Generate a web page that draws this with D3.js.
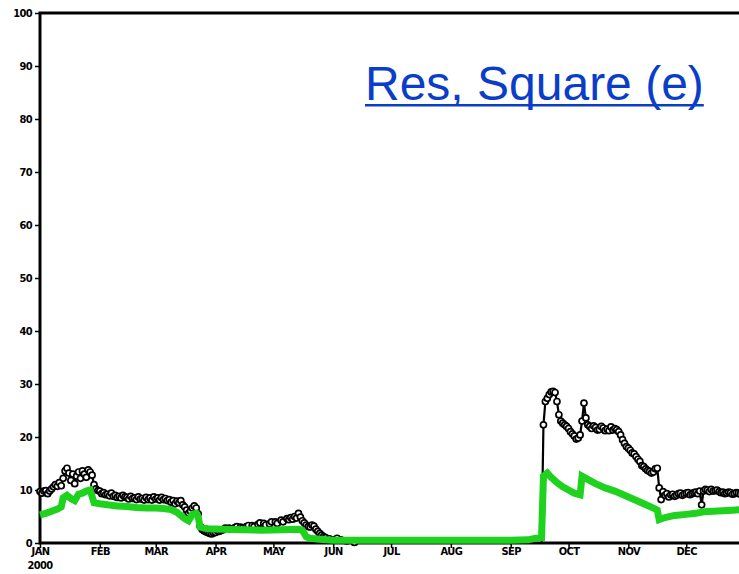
<!DOCTYPE html>
<meta charset="utf-8">
<head>
<style>
body {
  margin: 0;
  background: #fff;
}

.axis text {
  font-family: 'DejaVu Sans Condensed', 'DejaVu Sans', sans-serif;
  font-weight: bold;
  font-size: 11px;
  letter-spacing: -0.6px;
  fill: #000;
}

.axis line {
  stroke: #000;
  stroke-width: 1.5;
}

.axis path {
  display: none;
}

.link {
  font-family: 'Liberation Sans', Arial, sans-serif;
  font-size: 48px;
  fill: #0b3ec8;
}
</style>
</head>

<body>
<div id="chart"></div>

<script src="https://d3js.org/d3.v7.min.js"></script>
<script>

// observed series (black, with markers) - [month-day, percent]
var observed = [
  ["01-01", 9.7], ["01-02", 9.4], ["01-03", 9.8], ["01-04", 9.9], ["01-05", 9.3], ["01-06", 9.8], ["01-07", 10.2],
  ["01-08", 10.6], ["01-09", 11.0], ["01-10", 10.7], ["01-11", 11.4], ["01-12", 10.8],
  ["01-13", 12.2], ["01-14", 13.6], ["01-15", 14.1], ["01-16", 13.2], ["01-17", 11.8],
  ["01-18", 13.0], ["01-19", 11.2], ["01-20", 12.6], ["01-21", 13.4], ["01-22", 12.2],
  ["01-23", 13.6], ["01-24", 13.0], ["01-25", 12.4], ["01-26", 13.8], ["01-27", 13.4],
  ["01-28", 12.8], ["01-29", 11.0], ["01-30", 10.2], ["01-31", 9.9], ["02-01", 9.8], ["02-02", 9.3], ["02-03", 9.5],
  ["02-04", 9.1], ["02-05", 9.2], ["02-06", 8.9], ["02-07", 9.4], ["02-08", 8.8], ["02-09", 9.0], ["02-10", 8.6], ["02-11", 8.8], ["02-12", 8.5], ["02-13", 9.0],
  ["02-14", 8.7], ["02-15", 8.6], ["02-16", 8.3], ["02-17", 8.8], ["02-18", 8.4], ["02-19", 8.5], ["02-20", 8.2], ["02-21", 8.7], ["02-22", 8.3], ["02-23", 8.4],
  ["02-24", 8.1], ["02-25", 8.6], ["02-26", 8.2], ["02-27", 8.5], ["02-28", 8.1], ["02-29", 8.7], ["03-01", 8.3], ["03-02", 8.5], ["03-03", 8.1], ["03-04", 8.6],
  ["03-05", 8.2], ["03-06", 8.4], ["03-07", 8.0], ["03-08", 8.2], ["03-09", 7.7], ["03-10", 8.0], ["03-11", 7.4],
  ["03-12", 7.9], ["03-13", 7.6], ["03-14", 8.0], ["03-15", 7.2], ["03-16", 6.8],
  ["03-17", 6.2], ["03-18", 5.6], ["03-19", 6.0], ["03-20", 6.6], ["03-21", 7.0],
  ["03-22", 6.6], ["03-23", 5.5], ["03-24", 3.2], ["03-25", 2.6], ["03-26", 2.3], ["03-27", 2.1], ["03-28", 2.0],
  ["03-29", 1.8], ["03-30", 1.7], ["03-31", 1.9], ["04-01", 2.0], ["04-02", 2.3], ["04-03", 2.2], ["04-04", 2.4], ["04-05", 2.5], ["04-06", 2.8], ["04-08", 2.8],
  ["04-09", 2.6], ["04-11", 2.9], ["04-12", 3.1], ["04-14", 3.0], ["04-15", 2.8], ["04-17", 3.1], ["04-18", 3.3], ["04-20", 3.3], ["04-21", 3.1], ["04-23", 3.5],
  ["04-24", 3.8], ["04-26", 3.7], ["04-27", 3.4], ["04-29", 3.6], ["04-30", 4.0], ["05-02", 4.0], ["05-03", 3.7], ["05-05", 4.3], ["05-06", 4.0], ["05-08", 4.6],
  ["05-09", 4.4], ["05-10", 4.8], ["05-11", 4.5], ["05-12", 5.0], ["05-13", 4.7], ["05-14", 5.6], ["05-15", 4.9], ["05-16", 4.2],
  ["05-17", 3.8], ["05-18", 3.4], ["05-19", 3.1], ["05-20", 3.0], ["05-21", 3.4], ["05-22", 3.2], ["05-23", 2.6], ["05-24", 2.2], ["05-25", 1.8], ["05-26", 1.5],
  ["05-27", 1.2], ["05-28", 1.0], ["05-30", 0.8], ["06-01", 0.6], ["06-03", 0.9], ["06-05", 0.6],
  ["06-08", 0.4], ["06-12", 0.1], ["06-20", 0], ["09-17", 0],
  ["09-18", 22.3], ["09-19", 26.7], ["09-20", 27.3], ["09-21", 28.0], ["09-22", 28.5],
  ["09-23", 28.6], ["09-24", 28.4], ["09-25", 26.7], ["09-26", 24.2], ["09-27", 23.0],
  ["09-28", 22.6], ["09-29", 22.3], ["09-30", 22.0], ["10-01", 21.6], ["10-02", 21.0], ["10-03", 20.6],
  ["10-04", 20.2], ["10-05", 19.6], ["10-06", 19.8], ["10-07", 20.4], ["10-08", 23.0],
  ["10-09", 26.4], ["10-10", 23.6], ["10-11", 22.3], ["10-12", 22.0], ["10-13", 21.6],
  ["10-14", 22.1], ["10-15", 21.8], ["10-16", 21.3], ["10-17", 21.4], ["10-18", 22.0], ["10-19", 21.7], ["10-20", 21.2], ["10-21", 21.5], ["10-22", 21.2], ["10-23", 21.9],
  ["10-24", 21.3], ["10-25", 21.6], ["10-26", 21.4], ["10-27", 21.0], ["10-28", 20.4], ["10-29", 19.5], ["10-30", 18.8],
  ["10-31", 18.2], ["11-01", 17.9], ["11-02", 17.5], ["11-03", 17.0], ["11-04", 16.8], ["11-05", 16.3], ["11-06", 15.8],
  ["11-07", 15.4], ["11-08", 14.6], ["11-09", 14.4], ["11-10", 14.0], ["11-11", 13.7], ["11-12", 13.5], ["11-13", 13.2], ["11-14", 13.4], ["11-15", 14.0],
  ["11-16", 14.1], ["11-17", 10.4], ["11-18", 8.2], ["11-19", 9.7], ["11-20", 9.0],
  ["11-21", 9.3], ["11-22", 8.7], ["11-23", 9.1], ["11-24", 9.2], ["11-25", 8.8], ["11-26", 9.0], ["11-27", 9.3], ["11-28", 9.4], ["11-29", 9.0], ["11-30", 9.2],
  ["12-01", 9.4], ["12-02", 9.5], ["12-03", 9.1], ["12-04", 9.3], ["12-05", 9.5], ["12-06", 9.6], ["12-07", 9.3], ["12-08", 9.8], ["12-09", 7.2],
  ["12-10", 9.8], ["12-11", 10.1], ["12-12", 10.0], ["12-13", 9.7], ["12-14", 10.1], ["12-15", 9.8], ["12-16", 9.9], ["12-17", 10.0], ["12-18", 9.7],
  ["12-19", 9.5], ["12-20", 9.6], ["12-21", 9.3], ["12-22", 9.4], ["12-23", 9.6], ["12-24", 9.5], ["12-25", 9.2], ["12-26", 9.3], ["12-27", 9.5], ["12-28", 9.4],
  ["12-29", 9.2], ["12-30", 9.3]
];

// simulated series (thick green)
var simulated = [
  ["01-01", 5.3], ["01-04", 5.6], ["01-07", 6.0], ["01-10", 6.4], ["01-12", 6.8],
  ["01-13", 8.5], ["01-15", 9.0], ["01-17", 8.4], ["01-19", 8.0], ["01-21", 9.2],
  ["01-23", 9.4], ["01-25", 9.8], ["01-27", 10.0], ["01-29", 7.6], ["02-01", 7.4],
  ["02-05", 7.2], ["02-10", 7.0], ["02-15", 6.9], ["02-20", 6.7], ["02-25", 6.6],
  ["03-01", 6.6], ["03-05", 6.5], ["03-09", 6.3], ["03-12", 5.8], ["03-14", 5.2],
  ["03-16", 4.6], ["03-18", 4.2], ["03-20", 5.4], ["03-22", 5.6], ["03-23", 5.0],
  ["03-24", 3.0], ["03-28", 2.7], ["04-05", 2.6], ["04-15", 2.5], ["04-25", 2.4],
  ["05-05", 2.5], ["05-14", 2.6], ["05-16", 2.4], ["05-18", 1.2], ["05-20", 0.9],
  ["05-25", 0.7], ["06-01", 0.5], ["07-01", 0.5], ["08-01", 0.5], ["09-01", 0.5],
  ["09-10", 0.6], ["09-14", 0.9], ["09-17", 1.0], ["09-18", 12.6], ["09-20", 13.2],
  ["09-22", 12.4], ["09-25", 11.4], ["09-28", 10.6], ["10-01", 10.0], ["10-04", 9.4],
  ["10-07", 9.1], ["10-08", 12.6], ["10-10", 12.2], ["10-15", 11.2], ["10-20", 10.4],
  ["10-25", 9.8], ["10-30", 9.0], ["11-04", 8.2], ["11-09", 7.4], ["11-14", 6.6],
  ["11-16", 6.2], ["11-17", 4.4], ["11-20", 4.8], ["11-25", 5.2], ["12-01", 5.4],
  ["12-06", 5.6], ["12-10", 5.9], ["12-15", 6.0], ["12-20", 6.1], ["12-25", 6.2],
  ["12-31", 6.3]
];

var monthLabels = ["JAN", "FEB", "MAR", "APR", "MAY", "JUN", "JUL", "AUG", "SEP", "OCT", "NOV", "DEC"];
var yearLabel = "2000";
var yTicks = [0, 10, 20, 30, 40, 50, 60, 70, 80, 90, 100];
var linkLabel = "Res, Square (e)";

var parse = d3.timeParse("%Y-%m-%d");
function toRows(arr) {
  return arr.map(function(d) { return {date: parse("2000-" + d[0]), v: d[1]}; });
}
var obs = toRows(observed),
    sim = toRows(simulated);

var margin = {top: 13, left: 40},
    plotW = 706,
    plotH = 530;

var svg = d3.select("#chart").append("svg")
    .attr("width", 739)
    .attr("height", 574)
    .style("display", "block");

var x = d3.scaleTime()
    .domain([new Date(2000, 0, 1), new Date(2001, 0, 1)])
    .range([margin.left, margin.left + plotW]);

var y = d3.scaleLinear()
    .domain([0, 100])
    .range([margin.top + plotH, margin.top]);

var months = d3.timeMonths(new Date(2000, 0, 1), new Date(2001, 0, 1));

var xAxis = d3.axisBottom(x)
    .tickValues(months)
    .tickSize(5)
    .tickPadding(1)
    .tickFormat(function(d, i) { return monthLabels[i]; });

var yAxis = d3.axisLeft(y)
    .tickValues(yTicks)
    .tickSize(5)
    .tickPadding(3);

var gx = svg.append("g")
    .attr("class", "x axis")
    .attr("transform", "translate(0," + y(0) + ")")
    .call(xAxis);

gx.selectAll(".tick text").attr("dy", "0.55em");

// year under the first month
gx.append("text")
    .attr("x", x(months[0]))
    .attr("y", 19)
    .attr("dy", "0.6em")
    .attr("text-anchor", "middle")
    .text(yearLabel);

svg.append("g")
    .attr("class", "y axis")
    .attr("transform", "translate(" + x.range()[0] + ",0)")
    .call(yAxis);

// frame
svg.append("path")
    .attr("d", "M" + x.range()[1] + "," + y(100) + "H" + x.range()[0] + "V" + y(0) + "H" + x.range()[1])
    .attr("fill", "none")
    .attr("stroke", "#000")
    .attr("stroke-width", 3);

var line = d3.line()
    .x(function(d) { return x(d.date); })
    .y(function(d) { return y(d.v); });

svg.append("path")
    .datum(obs)
    .attr("fill", "none")
    .attr("stroke", "#000")
    .attr("stroke-width", 2.2)
    .attr("d", line);

svg.selectAll(".obs")
    .data(obs.filter(function(d) { return d.v > 0.05; }))
  .enter().append("circle")
    .attr("class", "obs")
    .attr("cx", function(d) { return x(d.date); })
    .attr("cy", function(d) { return y(d.v); })
    .attr("r", 3)
    .attr("fill", "#fff")
    .attr("stroke", "#000")
    .attr("stroke-width", 1.7);

svg.append("path")
    .datum(sim)
    .attr("fill", "none")
    .attr("stroke", "#1ed21e")
    .attr("stroke-width", 7)
    .attr("d", line);

// link label
var link = svg.append("text")
    .attr("class", "link")
    .attr("x", 365)
    .attr("y", 100)
    .text(linkLabel);

var bb = link.node().getBBox();
svg.append("rect")
    .attr("x", bb.x)
    .attr("y", 104)
    .attr("width", bb.width)
    .attr("height", 2.5)
    .attr("fill", "#0b3ec8");

</script>
</body>
